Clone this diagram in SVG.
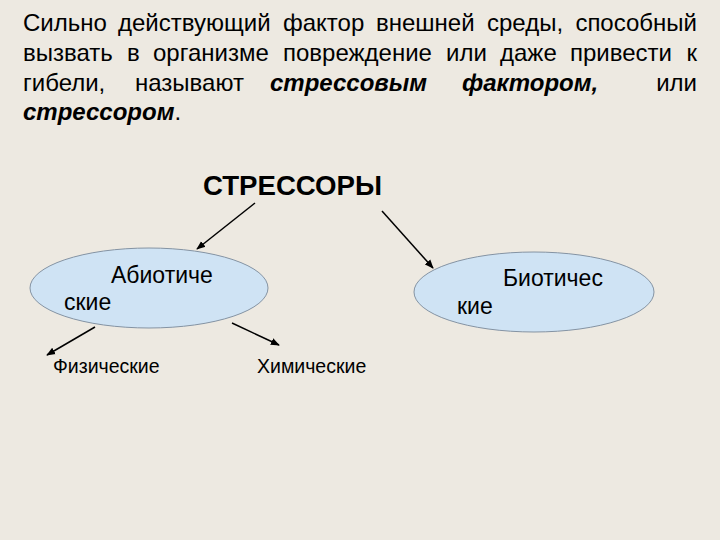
<svg xmlns="http://www.w3.org/2000/svg" width="720" height="540" viewBox="0 0 720 540">
<defs>
<marker id="ah" viewBox="0 0 10 10" refX="9" refY="5" markerWidth="6" markerHeight="6" orient="auto" markerUnits="strokeWidth">
<path d="M0,1 L10,5 L0,9 z" fill="#000"/>
</marker>
<style>
.t{font-family:"Liberation Sans",Arial,sans-serif;font-size:24px;fill:#000}
.bi{font-weight:bold;font-style:italic}
.h{font-family:"Liberation Sans",Arial,sans-serif;font-size:27px;font-weight:bold;fill:#000}
.n{font-family:"Liberation Sans",Arial,sans-serif;font-size:23px;fill:#000}
.s{font-family:"Liberation Sans",Arial,sans-serif;font-size:19.5px;fill:#000}
.el{fill:#CFE3F4;stroke:#8493A3;stroke-width:1}
.c{stroke:#000;stroke-width:1.5;fill:none;marker-end:url(#ah)}
</style>
</defs>
<rect width="720" height="540" fill="#EDE9E1"/>
<g id="intro">
<text class="t" y="31"><tspan x="23">Сильно</tspan><tspan x="118">действующий</tspan><tspan x="283">фактор</tspan><tspan x="376">внешней</tspan><tspan x="487">среды,</tspan></text>
<text class="t" y="31" x="697" text-anchor="end">способный</text>
<text class="t" y="61"><tspan x="23">вызвать</tspan><tspan x="127">в</tspan><tspan x="153">организме</tspan><tspan x="283">повреждение</tspan><tspan x="446">или</tspan><tspan x="500">даже</tspan><tspan x="570">привести</tspan></text>
<text class="t" y="61" x="697" text-anchor="end">к</text>
<text class="t" y="91"><tspan x="23">гибели,</tspan><tspan x="135">называют</tspan><tspan x="270" class="bi">стрессовым</tspan><tspan x="462" class="bi">фактором,</tspan></text>
<text class="t" y="91" x="697" text-anchor="end">или</text>
<text class="t" y="120" x="23"><tspan class="bi">стрессором</tspan>.</text>
</g>
<g id="stressors">
<text class="h" x="203" y="195" textLength="179" lengthAdjust="spacingAndGlyphs">СТРЕССОРЫ</text>
</g>
<g id="abiotic">
<ellipse class="el" cx="149" cy="288" rx="119" ry="40"/>
<text class="n" x="111" y="283">Абиотиче</text>
<text class="n" x="64" y="310">ские</text>
</g>
<g id="biotic">
<ellipse class="el" cx="534" cy="292" rx="120" ry="40"/>
<text class="n" x="503" y="286">Биотичес</text>
<text class="n" x="457" y="314">кие</text>
</g>
<g id="physical">
<text class="s" x="53" y="373">Физические</text>
</g>
<g id="chemical">
<text class="s" x="257" y="373">Химические</text>
</g>
<g id="connectors">
<line class="c" x1="255" y1="203" x2="197" y2="249"/>
<line class="c" x1="382" y1="211" x2="433" y2="268"/>
<line class="c" x1="95" y1="327" x2="47" y2="355"/>
<line class="c" x1="232" y1="323" x2="279" y2="345"/>
</g>
</svg>
